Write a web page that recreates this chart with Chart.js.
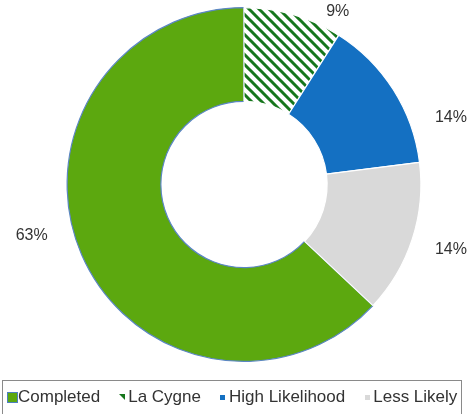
<!DOCTYPE html>
<html lang="en">
	<head>
		<meta charset="utf-8">
		<title>Project status</title>
		<script src="https://cdn.jsdelivr.net/npm/chart.js@4.4.0/dist/chart.umd.min.js"></script>
		<style>
			html, body { margin: 0; padding: 0; background: #fff; }
			#wrap { width: 470px; height: 414px; }
		</style>
	</head>
	<body>
		<div id="wrap"><canvas id="status"></canvas></div>
		<script>
			// data
			const categories = ["Completed", "La Cygne", "High Likelihood", "Less Likely"]
			const shares = [63, 9, 14, 14]
			const shareLabels = ["63%", "9%", "14%", "14%"]

			const green = "#5ca80f"
			const blue = "#1470c2"
			const grey = "#d9d9d9"
			const darkGreen = "#16761c"
			const font = "'Liberation Sans', Arial, sans-serif"

			function hatch() {
				const s = 10
				const c = document.createElement("canvas")
				c.width = s
				c.height = s
				const x = c.getContext("2d")
				x.fillStyle = "#fff"
				x.fillRect(0, 0, s, s)
				x.strokeStyle = darkGreen
				x.lineWidth = 3
				x.beginPath()
				x.moveTo(-2, -2); x.lineTo(s + 2, s + 2)
				x.moveTo(-s - 2, -2); x.lineTo(2, s + 2)
				x.moveTo(s - 2, -2); x.lineTo(2 * s + 2, s + 2)
				x.stroke()
				return c.getContext("2d").createPattern(c, "repeat")
			}

			// legend markers: [width, height, fill, edge, triangle]
			const markers = [
				[11, 11, green, "#4d7fbf", false],
				[6, 6, darkGreen, null, true],
				[5, 5, blue, null, false],
				[5, 5, grey, null, false]
			]

			// spots for the percent labels, in units of the outer radius from the centre
			const spots = [[-1.20, 0.29], [0.53, -0.98], [1.17, -0.38], [1.17, 0.37]]

			const pctPlugin = {
				id: "pct",
				afterDatasetsDraw(chart) {
					const ctx = chart.ctx
					const arcs = chart.getDatasetMeta(0).data
					ctx.save()
					ctx.font = "16px " + font
					ctx.fillStyle = "#333"
					ctx.textAlign = "center"
					ctx.textBaseline = "middle"
					arcs.forEach((a, i) => {
						const r = a.outerRadius
						ctx.fillText(shareLabels[i], a.x + spots[i][0] * r, a.y + spots[i][1] * r)
					})
					ctx.restore()
				},
				afterDraw(chart) {
					const ctx = chart.ctx
					const top = chart.chartArea.bottom + 18
					ctx.save()
					ctx.strokeStyle = "#8a8a8a"
					ctx.lineWidth = 1
					ctx.strokeRect(2.5, top + 0.5, 459, 40)
					ctx.font = "17px " + font
					ctx.fillStyle = "#333"
					ctx.textBaseline = "middle"
					const cy = top + 17
					let x = 6
					categories.forEach((c, i) => {
						const [w, h, fill, edge, tri] = markers[i]
						const mx = Math.round(x + 6 - w / 2)
						const my = Math.round(cy - h / 2)
						ctx.fillStyle = fill
						if (tri) {
							ctx.beginPath()
							ctx.moveTo(mx, my); ctx.lineTo(mx + w, my); ctx.lineTo(mx + w, my + h)
							ctx.closePath()
							ctx.fill()
						} else {
							ctx.fillRect(mx, my, w, h)
							if (edge) {
								ctx.strokeStyle = edge
								ctx.strokeRect(mx + 0.5, my + 0.5, w - 1, h - 1)
							}
						}
						ctx.fillStyle = "#333"
						ctx.fillText(c, x + 12, cy)
						x += 12 + ctx.measureText(c).width + 16
					})
					ctx.restore()
				}
			}

			new Chart(document.getElementById("status"), {
				type: "doughnut",
				data: {
					labels: categories,
					datasets: [{
						data: shares,
						backgroundColor: [green, hatch(), blue, grey],
						borderColor: ["#5b86c4", "#ffffff", "#ffffff", "#ffffff"],
						borderWidth: 1.2
					}]
				},
				options: {
					responsive: true,
					maintainAspectRatio: false,
					animation: false,
					rotation: 133.2,
					cutout: "47%",
					layout: { padding: { top: 7, bottom: 52, left: 18, right: 0 } },
					plugins: {
						tooltip: { enabled: false },
						legend: { display: false }
					}
				},
				plugins: [pctPlugin]
			})
		</script>
	</body>
</html>
